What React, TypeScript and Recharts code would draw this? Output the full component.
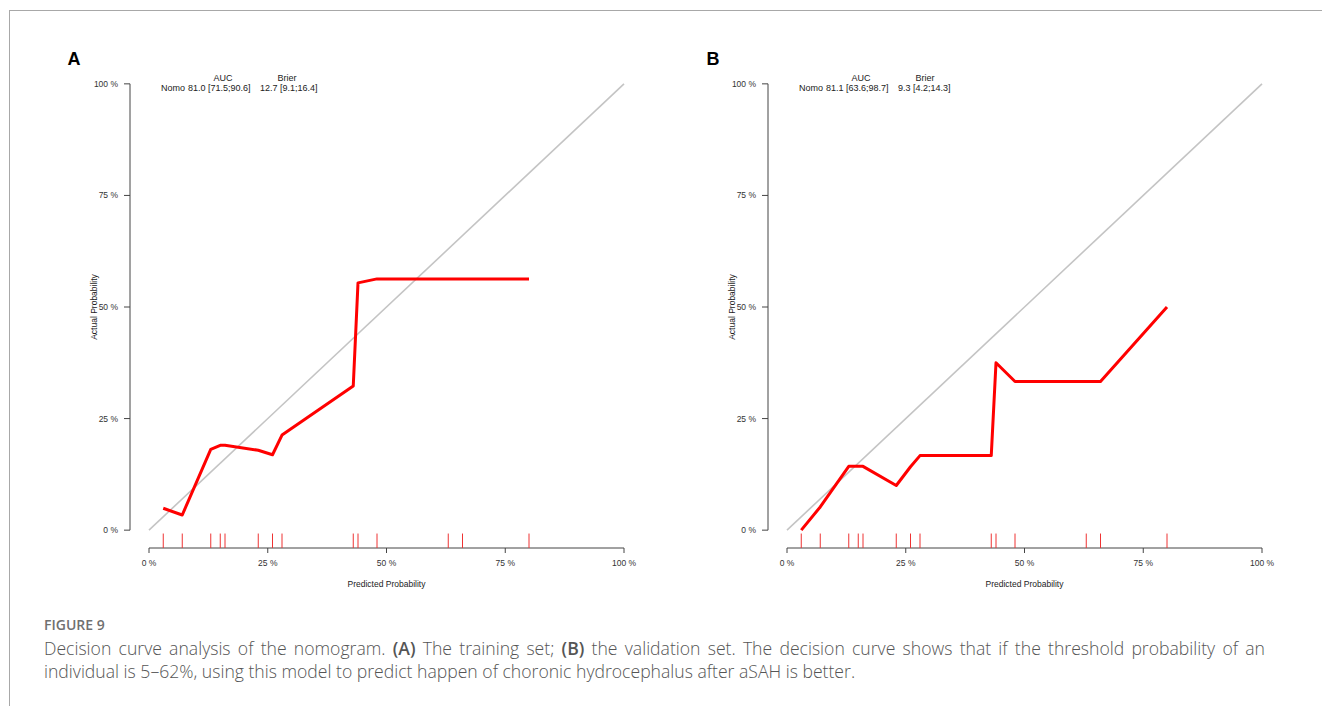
import React from "react";
import { LineChart, Line, XAxis, YAxis, ReferenceLine } from "recharts";

// ---- data ----
const predicted = [0.03, 0.07, 0.13, 0.15, 0.16, 0.23, 0.26, 0.28, 0.43, 0.44, 0.48, 0.63, 0.66, 0.8];
const actualA = [0.049, 0.034, 0.181, 0.19, 0.19, 0.179, 0.169, 0.213, 0.323, 0.554, 0.563, 0.563, 0.563, 0.563];
const actualB = [0.0, 0.052, 0.143, 0.143, 0.143, 0.1, 0.142, 0.167, 0.167, 0.375, 0.333, 0.333, 0.333, 0.5];
const rugValues = [0.03, 0.07, 0.13, 0.15, 0.16, 0.23, 0.26, 0.28, 0.43, 0.44, 0.48, 0.63, 0.66, 0.8];
const axisTicks = [0, 0.25, 0.5, 0.75, 1];
const tickLabels = ["0 %", "25 %", "50 %", "75 %", "100 %"];

const panels = [
  { letter: "A", actual: actualA, name: "Nomo", auc: "81.0 [71.5;90.6]", brier: "12.7 [9.1;16.4]" },
  { letter: "B", actual: actualB, name: "Nomo", auc: "81.1 [63.6;98.7]", brier: "9.3 [4.2;14.3]" },
];

const FONT = "'Liberation Sans', Arial, sans-serif";
const PAD = 0.04; // R axis expansion
const LO = -PAD;
const HI = 1 + PAD;
const RUG_TOP = LO + 0.03 * (HI - LO);

const fmt = (v: number) => tickLabels[axisTicks.indexOf(v)] ?? `${Math.round(v * 100)} %`;

function Panel({ actual, left }: { actual: number[]; left: number }) {
  const data = predicted.map((x, i) => ({ x, y: actual[i] }));
  return (
    <div style={{ position: "absolute", left, top: 0 }}>
      <LineChart
        width={660}
        height={600}
        data={data}
        margin={{ top: 66, right: 17, bottom: 22, left: 70 }}
      >
        <XAxis
          dataKey="x"
          type="number"
          domain={[LO, HI]}
          allowDataOverflow
          ticks={axisTicks}
          tickFormatter={fmt}
          axisLine={false}
          tickSize={5}
          tickMargin={7}
          height={30}
          tick={{ fontSize: 8.5, fill: "#333", fontFamily: FONT }}
          tickLine={{ stroke: "#444" }}
        />
        <YAxis
          type="number"
          domain={[LO, HI]}
          allowDataOverflow
          ticks={axisTicks}
          tickFormatter={fmt}
          axisLine={false}
          tickSize={6}
          tickMargin={6}
          width={60}
          tick={{ fontSize: 8.5, fill: "#333", fontFamily: FONT }}
          tickLine={{ stroke: "#444" }}
        />
        {/* axis lines spanning first to last tick (R style) */}
        <ReferenceLine
          segment={[{ x: 0, y: LO }, { x: 1, y: LO }]}
          stroke="#444"
          strokeWidth={1}
          ifOverflow="visible"
        />
        <ReferenceLine
          segment={[{ x: LO, y: 0 }, { x: LO, y: 1 }]}
          stroke="#444"
          strokeWidth={1}
          ifOverflow="visible"
        />
        {/* ideal diagonal */}
        <ReferenceLine
          segment={[{ x: 0, y: 0 }, { x: 1, y: 1 }]}
          stroke="#c4c4c4"
          strokeWidth={1.6}
          ifOverflow="visible"
        />
        {/* rug */}
        {rugValues.map((r, i) => (
          <ReferenceLine
            key={`rug-${i}`}
            segment={[{ x: r, y: LO }, { x: r, y: RUG_TOP }]}
            stroke="#ee3333"
            strokeWidth={1}
            ifOverflow="visible"
          />
        ))}
        <Line
          type="linear"
          dataKey="y"
          stroke="#ff0000"
          strokeWidth={3}
          dot={false}
          isAnimationActive={false}
          strokeLinejoin="round"
        />
      </LineChart>
    </div>
  );
}

export default function App() {
  const offsets = [0, 638];
  const captionFont = "'Open Sans', 'Noto Sans', sans-serif";
  return (
    <div
      style={{
        position: "absolute",
        left: 0,
        top: 0,
        width: 1322,
        height: 706,
        background: "#fff",
        overflow: "hidden",
      }}
    >
      {/* frame */}
      <div
        style={{
          position: "absolute",
          left: 9,
          top: 10,
          width: 1313,
          height: 700,
          borderLeft: "1.5px solid #a8a8a8",
          borderTop: "1.5px solid #a8a8a8",
        }}
      />
      {panels.map((p, i) => (
        <Panel key={p.letter} actual={p.actual} left={offsets[i]} />
      ))}
      <svg
        width={1322}
        height={706}
        style={{ position: "absolute", left: 0, top: 0, pointerEvents: "none" }}
      >
        {panels.map((p, i) => {
          const dx = offsets[i];
          return (
            <g key={p.letter} fontFamily={FONT} fill="#222">
              <text x={67.5 + dx + (i ? 1 : 0)} y={65} fontSize={18} fontWeight="bold" fill="#000">
                {p.letter}
              </text>
              <text x={223 + dx} y={80.5} fontSize={9} textAnchor="middle">AUC</text>
              <text x={287 + dx} y={80.5} fontSize={9} textAnchor="middle">Brier</text>
              <text x={161 + dx} y={90.5} fontSize={9}>{p.name}</text>
              <text x={188 + dx} y={90.5} fontSize={9}>{p.auc}</text>
              <text x={260 + dx} y={90.5} fontSize={9}>{p.brier}</text>
              <text x={386.5 + dx} y={586.5} fontSize={8.5} textAnchor="middle">
                Predicted Probability
              </text>
              <text
                x={0}
                y={0}
                fontSize={8.5}
                textAnchor="middle"
                transform={`translate(${97 + dx},307) rotate(-90)`}
              >
                Actual Probability
              </text>
            </g>
          );
        })}
      </svg>
      {/* caption */}
      <div
        style={{
          position: "absolute",
          left: 44,
          top: 616,
          fontFamily: captionFont,
          fontSize: 14,
          fontWeight: 600,
          color: "#707070",
          lineHeight: "18px",
          whiteSpace: "nowrap",
        }}
      >
        FIGURE 9
      </div>
      <div
        style={{
          position: "absolute",
          left: 44,
          top: 637,
          width: 1221,
          fontFamily: captionFont,
          fontSize: 17.6,
          fontWeight: 300,
          color: "#555555",
          lineHeight: "23px",
        }}
      >
        <div style={{ textAlign: "justify", textAlignLast: "justify", whiteSpace: "nowrap" as const }}>
          Decision curve analysis of the nomogram. <b style={{ fontWeight: 600 }}>(A)</b> The training set;{" "}
          <b style={{ fontWeight: 600 }}>(B)</b> the validation set. The decision curve shows that if the
          threshold probability of an
        </div>
        <div style={{ whiteSpace: "nowrap" }}>
          individual is 5–62%, using this model to predict happen of choronic hydrocephalus after aSAH is better.
        </div>
      </div>
    </div>
  );
}
